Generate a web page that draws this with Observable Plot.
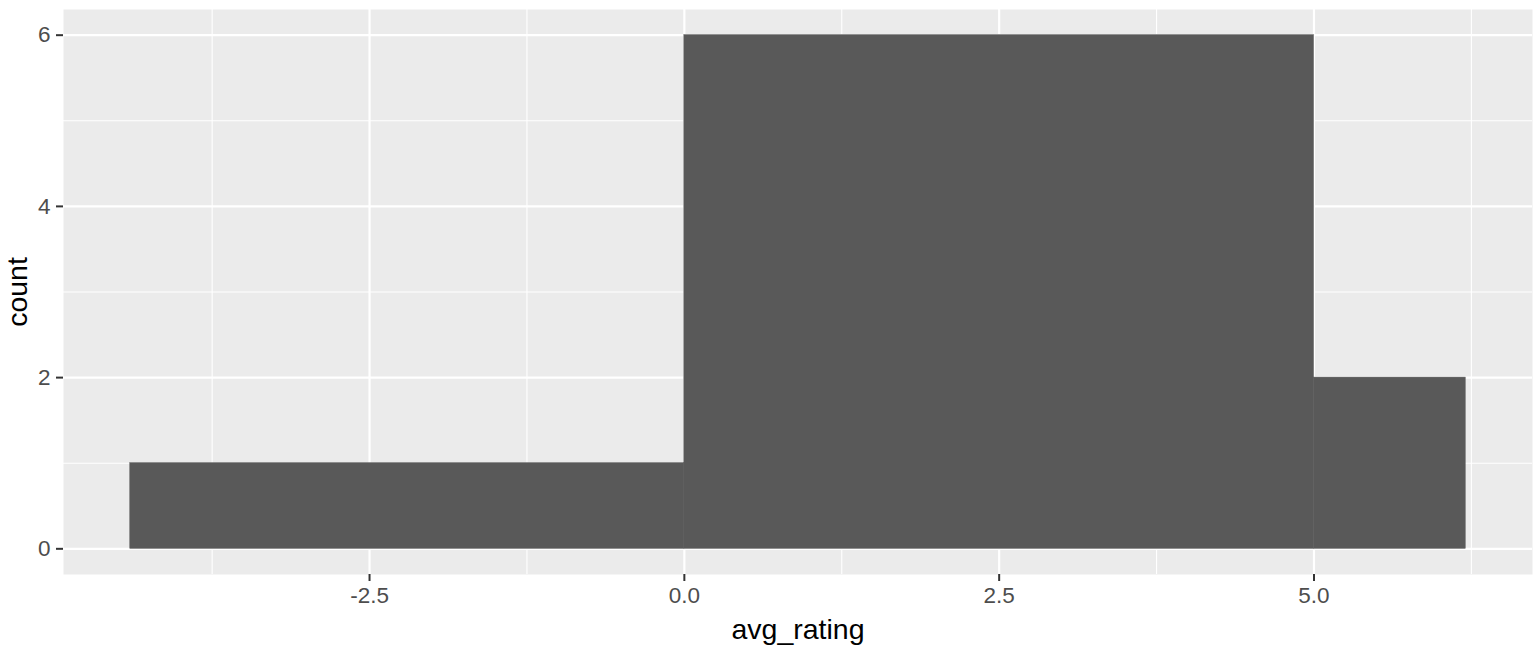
<!DOCTYPE html>
<html>
<head>
<meta charset="utf-8">
<script src="https://cdn.jsdelivr.net/npm/d3@7"></script>
<script src="https://cdn.jsdelivr.net/npm/@observablehq/plot@0.6"></script>
<style>
  html, body { margin: 0; padding: 0; background: #fff; }
  svg { display: block; }
</style>
</head>
<body>
<div id="chart"></div>
<script>
// Histogram bins (avg_rating) and counts
const binStart = [-4.40, 0.00, 5.00];
const binEnd   = [0.00, 5.00, 6.205];
const counts   = [1, 6, 2];

const xMajor = [-2.5, 0, 2.5, 5.0];
const xMinor = [-3.75, -1.25, 1.25, 3.75, 6.25];
const yMajor = [0, 2, 4, 6];
const yMinor = [1, 3, 5];

const bins = binStart.map((s, i) => ({x1: s, x2: binEnd[i], count: counts[i]}));

const xmin = d3.min(binStart), xmax = d3.max(binEnd);
const xpad = (xmax - xmin) * 0.05;
const ymax = d3.max(counts), ypad = ymax * 0.05;

const chart = Plot.plot({
  width: 1536,
  height: 650,
  marginLeft: 63,
  marginRight: 4,
  marginTop: 9,
  marginBottom: 76,
  style: {fontFamily: "'Liberation Sans', Arial, sans-serif", background: "#fff"},
  x: {domain: [xmin - xpad, xmax + xpad]},
  y: {domain: [-ypad, ymax + ypad]},
  marks: [
    Plot.frame({fill: "#ebebeb", stroke: null}),
    Plot.ruleX(xMinor, {stroke: "#fff", strokeWidth: 1.1}),
    Plot.ruleY(yMinor, {stroke: "#fff", strokeWidth: 1.1}),
    Plot.ruleX(xMajor, {stroke: "#fff", strokeWidth: 2.2}),
    Plot.ruleY(yMajor, {stroke: "#fff", strokeWidth: 2.2}),
    Plot.rectY(bins, {x1: "x1", x2: "x2", y1: 0, y2: "count", fill: "#595959", stroke: "#595959", strokeWidth: 0.5}),
    Plot.axisX(xMajor, {
      tickSize: 7, tickPadding: 6, strokeWidth: 2, stroke: "#333",
      fontSize: 22.5, color: "#4d4d4d",
      tickFormat: d => d.toFixed(1),
      label: "avg_rating", labelAnchor: "center", labelArrow: "none", labelOffset: 64
    }),
    Plot.axisY(yMajor, {
      tickSize: 7, tickPadding: 6, strokeWidth: 2, stroke: "#333",
      fontSize: 22.5, color: "#4d4d4d",
      tickFormat: d => String(d),
      label: "count", labelAnchor: "center", labelArrow: "none", labelOffset: 57
    })
  ]
});
// Axis titles in black and larger
chart.querySelectorAll("[aria-label='x-axis label'], [aria-label='y-axis label']").forEach(g => {
  g.setAttribute("fill", "#000");
  g.setAttribute("font-size", "28.5");
  g.querySelectorAll("text").forEach(t => { t.setAttribute("fill", "#000"); t.style.fontSize = "28.5px"; });
});
document.getElementById("chart").appendChild(chart);
</script>
</body>
</html>
